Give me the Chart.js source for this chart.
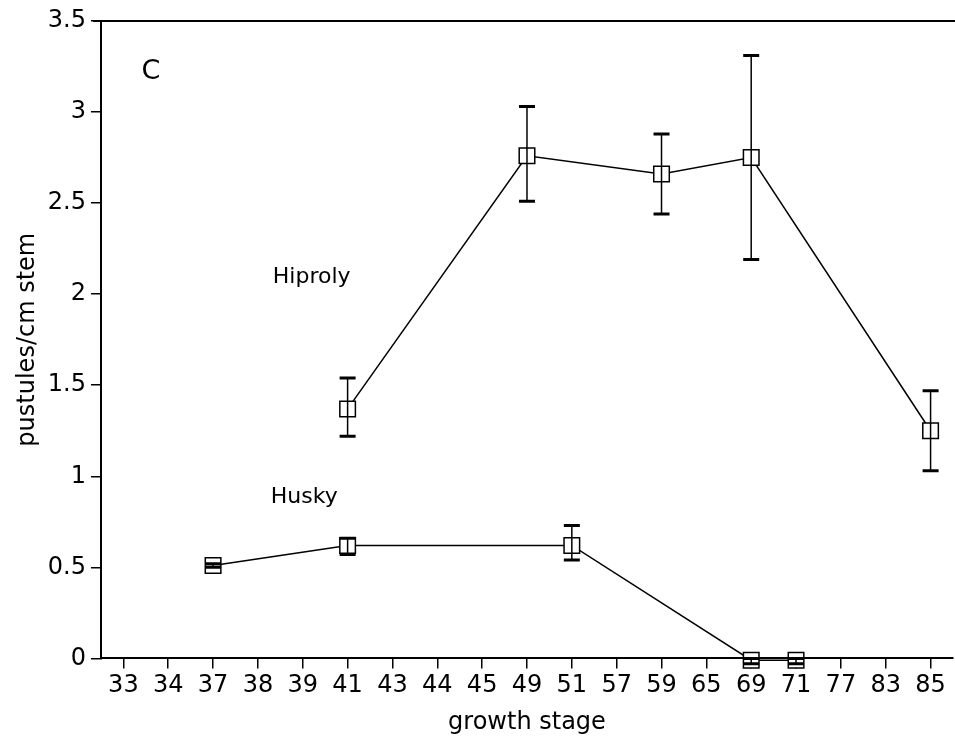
<!DOCTYPE html>
<html>
<head>
<meta charset="utf-8">
<script src="https://cdn.jsdelivr.net/npm/chart.js@4/dist/chart.umd.min.js"></script>
<style>
  html, body { margin: 0; padding: 0; background: #fff; overflow: hidden; }
</style>
</head>
<body>
<canvas id="stemChart" width="955" height="737"></canvas>
<script>
const stages = ['33', '34', '37', '38', '39', '41', '43', '44', '45', '49', '51', '57', '59', '65', '69', '71', '77', '83', '85'];

const hiproly     = [null, null, null, null, null, 1.37, null, null, null, 2.76, null, null, 2.66, null, 2.75, null, null, null, 1.25];
const hiprolyHigh = [null, null, null, null, null, 1.54, null, null, null, 3.03, null, null, 2.88, null, 3.31, null, null, null, 1.47];
const hiprolyLow  = [null, null, null, null, null, 1.22, null, null, null, 2.51, null, null, 2.44, null, 2.19, null, null, null, 1.03];

const husky     = [null, null, 0.51, null, null, 0.62, null, null, null, null, 0.62, null, null, null, -0.01, -0.01, null, null, null];
const huskyHigh = [null, null, 0.52, null, null, 0.66, null, null, null, null, 0.73, null, null, null, 0.0, 0.0, null, null, null];
const huskyLow  = [null, null, 0.50, null, null, 0.57, null, null, null, null, 0.54, null, null, null, -0.03, -0.03, null, null, null];

const yTicks = [0, 0.5, 1, 1.5, 2, 2.5, 3, 3.5];

const FONT = '"DejaVu Sans", sans-serif';

// error bars drawn through the chart's scales
const errorBars = {
  id: 'errorBars',
  afterDatasetsDraw(chart) {
    const { ctx, scales: { x, y } } = chart;
    const sets = [[hiprolyHigh, hiprolyLow], [huskyHigh, huskyLow]];
    ctx.save();
    ctx.strokeStyle = '#000';
    sets.forEach(([hi, lo]) => {
      hi.forEach((h, i) => {
        if (h === null) return;
        const px = x.getPixelForValue(i);
        const top = y.getPixelForValue(h);
        const bot = y.getPixelForValue(lo[i]);
        ctx.lineWidth = 1.5;
        ctx.beginPath();
        ctx.moveTo(px, top);
        ctx.lineTo(px, bot);
        ctx.stroke();
        ctx.lineWidth = 3;
        ctx.beginPath();
        ctx.moveTo(px - 8, top);
        ctx.lineTo(px + 8, top);
        ctx.moveTo(px - 8, bot);
        ctx.lineTo(px + 8, bot);
        ctx.stroke();
      });
    });
    ctx.restore();
  }
};

// panel letter, series labels and top frame line
const annotations = {
  id: 'annotations',
  afterDraw(chart) {
    const { ctx, chartArea, scales: { x, y } } = chart;
    ctx.save();
    ctx.strokeStyle = '#000';
    ctx.lineWidth = 2;
    ctx.beginPath();
    ctx.moveTo(chartArea.left - 8, chartArea.top);
    ctx.lineTo(chartArea.right + 2, chartArea.top);
    ctx.stroke();

    ctx.fillStyle = '#000';
    ctx.textBaseline = 'middle';
    ctx.textAlign = 'left';
    ctx.font = '27px ' + FONT;
    ctx.fillText('C', x.getPixelForValue(0) + 18, y.getPixelForValue(3.22));
    ctx.font = '22px ' + FONT;
    ctx.fillText('Hiproly', x.getPixelForValue(4) - 30, y.getPixelForValue(2.09));
    ctx.fillText('Husky', x.getPixelForValue(4) - 32, y.getPixelForValue(0.885));
    ctx.restore();
  }
};

const baseSet = {
  borderColor: '#000',
  borderWidth: 1.5,
  pointStyle: 'rect',
  pointRadius: 11,
  pointBorderWidth: 1.5,
  pointBackgroundColor: '#fff',
  pointBorderColor: '#000',
  spanGaps: true,
  tension: 0,
  clip: false
};

new Chart(document.getElementById('stemChart'), {
  type: 'line',
  data: {
    labels: stages,
    datasets: [
      Object.assign({ label: 'Hiproly', data: hiproly }, baseSet),
      Object.assign({ label: 'Husky', data: husky }, baseSet)
    ]
  },
  options: {
    responsive: false,
    animation: false,
    layout: { autoPadding: false, padding: { top: 21, right: 2, left: 13, bottom: 0 } },
    plugins: {
      legend: { display: false },
      tooltip: { enabled: false }
    },
    scales: {
      x: {
        offset: true,
        afterFit(scale) { scale.paddingLeft = 0; scale.paddingRight = 0; },
        grid: { display: true, drawOnChartArea: false, drawTicks: true, tickLength: 10, color: '#000', lineWidth: 1.5, offset: false },
        border: { display: true, color: '#000', width: 2 },
        ticks: { color: '#000', font: { family: FONT, size: 24 }, padding: 3, maxRotation: 0, autoSkip: false },
        title: { display: true, text: 'growth stage', color: '#000', font: { family: FONT, size: 24 }, padding: { top: 5, bottom: 0 } }
      },
      y: {
        min: 0,
        max: 3.5,
        afterBuildTicks(axis) { axis.ticks = yTicks.map(v => ({ value: v })); },
        grid: { display: true, drawOnChartArea: false, drawTicks: true, tickLength: 10, color: '#000', lineWidth: 1.5 },
        border: { display: true, color: '#000', width: 2 },
        ticks: { color: '#000', font: { family: FONT, size: 24 }, padding: 5, callback: v => String(v) },
        title: { display: true, text: 'pustules/cm stem', color: '#000', font: { family: FONT, size: 24 }, padding: { top: 0, bottom: 1 } }
      }
    }
  },
  plugins: [errorBars, annotations]
});
</script>
</body>
</html>
